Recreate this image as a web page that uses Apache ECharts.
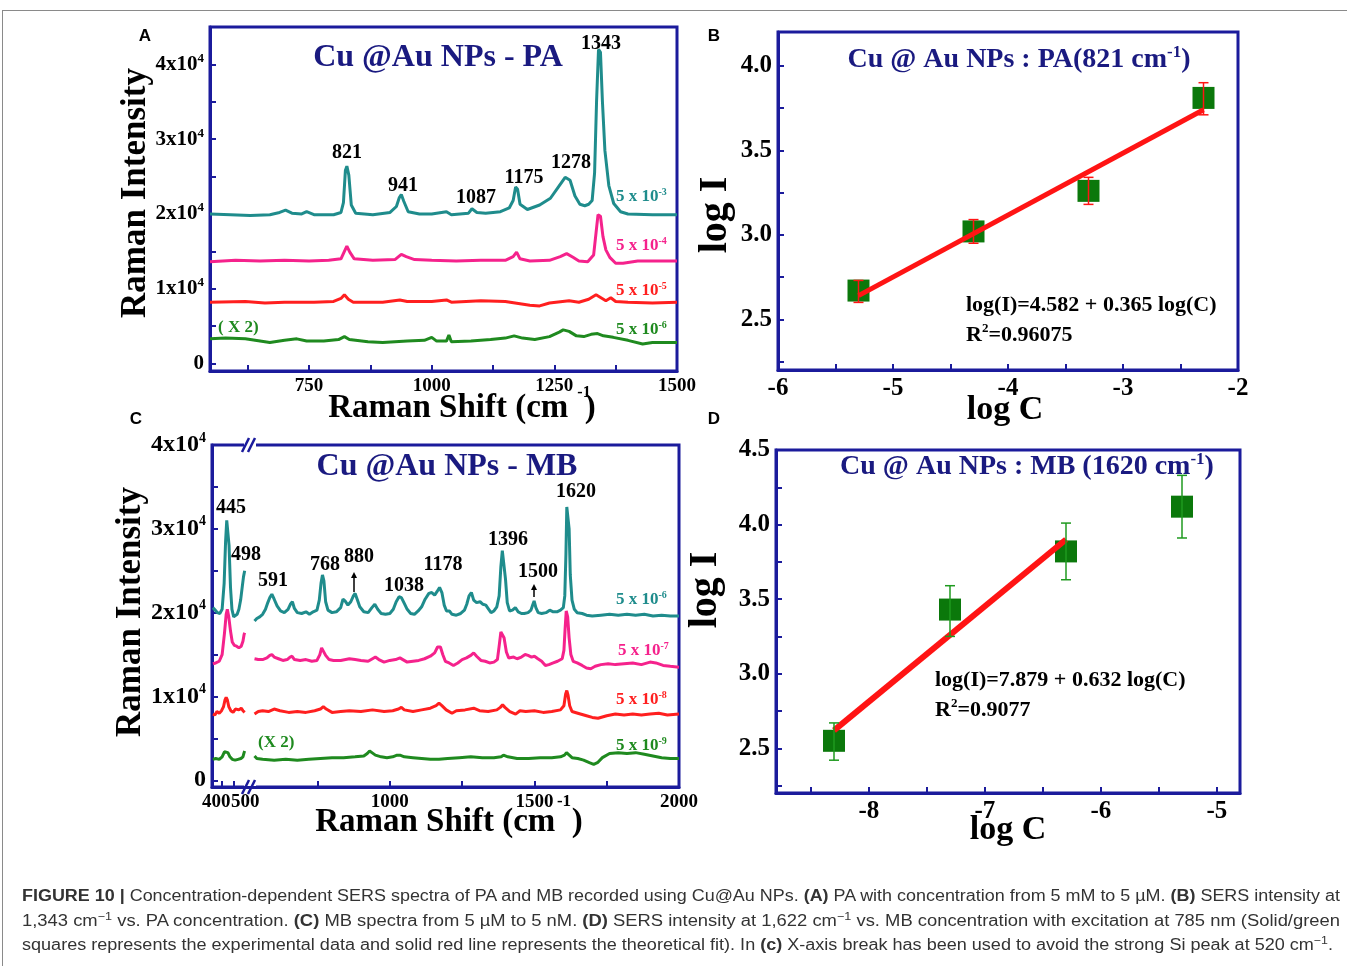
<!DOCTYPE html>
<html>
<head>
<meta charset="utf-8">
<title>Cu@Au NPs SERS</title>
<script src="https://cdn.jsdelivr.net/npm/echarts@6.0.0/dist/echarts.min.js"></script>
<style>
  html, body { margin: 0; padding: 0; background: #fff; }
  #wrap { position: relative; width: 1347px; height: 966px; overflow: hidden; }
  #frame { position: absolute; left: 2px; top: 10px; width: 1400px; height: 1000px;
           border-top: 1px solid #8a8a8a; border-left: 1px solid #8a8a8a; }
  #chart { position: absolute; left: 0; top: 0; width: 1347px; height: 966px; }
  #caption { position: absolute; left: 22px; top: 884px; font-family: "Liberation Sans", Arial, sans-serif;
             font-size: 16px; color: #333; line-height: 24.5px; }
  #caption div { white-space: nowrap; transform-origin: 0 50%; }
  #caption sup { font-size: 11px; vertical-align: 6px; line-height: 0; }
</style>
</head>
<body>
<div id="wrap">
  <div id="frame"></div>
  <div id="chart"></div>
  <div id="caption">
    <div data-w="1318"><b>FIGURE 10 |</b> Concentration-dependent SERS spectra of PA and MB recorded using Cu@Au NPs. <b>(A)</b> PA with concentration from 5 mM to 5 µM. <b>(B)</b> SERS intensity at</div>
    <div data-w="1318">1,343 cm<sup>−1</sup> vs. PA concentration. <b>(C)</b> MB spectra from 5 µM to 5 nM. <b>(D)</b> SERS intensity at 1,622 cm<sup>−1</sup> vs. MB concentration with excitation at 785 nm (Solid/green</div>
    <div data-w="1311">squares represents the experimental data and solid red line represents the theoretical fit). In <b>(c)</b> X-axis break has been used to avoid the strong Si peak at 520 cm<sup>−1</sup>.</div>
  </div>
</div>
<script>
// ---- panel A : PA spectra (Raman shift, intensity)
var paTeal = [[548,20000],[590,19900],[630,19800],[670,19900],[690,20200],[702,20500],[715,20100],[735,20000],[745,20300],[760,19900],[800,19900],[815,20200],[820,21500],[824,25800],[827,26400],[831,25200],[836,21200],[845,20100],[880,19900],[915,20200],[928,21000],[934,22200],[938,22600],[943,21700],[952,20300],[975,20000],[1000,20000],[1030,20300],[1040,19900],[1075,20100],[1082,20700],[1086,20900],[1092,20200],[1110,20100],[1140,20300],[1158,20800],[1166,21800],[1171,23600],[1175,23300],[1180,21300],[1195,20600],[1220,21200],[1242,22100],[1258,23600],[1272,24900],[1282,24500],[1292,22400],[1302,21300],[1312,21100],[1320,21300],[1327,21800],[1332,25500],[1336,35000],[1340,42000],[1344,41600],[1348,35000],[1353,28500],[1361,23800],[1371,21400],[1385,20300],[1400,20000],[1450,19900],[1500,19900]];
var paPink = [[548,13600],[600,13800],[650,13700],[700,13800],[750,13700],[790,13800],[815,14000],[822,15000],[827,15700],[833,14900],[842,14000],[880,13800],[925,13900],[938,14600],[948,14300],[965,13900],[1000,13800],[1050,13700],[1100,13800],[1150,13800],[1166,14300],[1173,14900],[1180,14000],[1200,13700],[1240,13800],[1262,14300],[1275,14700],[1288,14200],[1300,13700],[1318,13600],[1330,14500],[1335,17500],[1339,19900],[1344,19700],[1349,17000],[1355,15200],[1363,14200],[1375,13400],[1390,13400],[1420,13700],[1460,13700],[1500,13700]];
var paRed = [[548,8200],[620,8300],[660,8100],[700,8200],[760,8200],[800,8300],[815,8700],[822,9200],[830,8600],[840,8200],[900,8200],[935,8500],[950,8300],[1000,8300],[1030,8500],[1040,8200],[1100,8400],[1150,8300],[1200,7800],[1220,7700],[1240,8100],[1280,8400],[1300,8200],[1320,8600],[1335,9200],[1345,8800],[1355,8400],[1365,8800],[1375,8300],[1400,8200],[1450,8100],[1500,8200]];
var paGreen = [[548,3300],[580,3400],[620,3300],[650,3000],[670,2800],[700,3100],[725,3300],[745,3000],[780,3000],[810,3200],[822,3600],[832,3200],[870,2900],[900,2800],[950,3000],[985,3100],[1000,3500],[1010,3000],[1030,3000],[1035,3800],[1040,2900],[1080,3000],[1120,3200],[1150,3400],[1168,3700],[1185,3400],[1210,3200],[1240,3600],[1260,4200],[1268,4500],[1280,4300],[1295,3700],[1310,3600],[1325,3900],[1338,4000],[1350,3700],[1370,3500],[1400,3100],[1430,2600],[1450,2800],[1500,2800]];

// ---- panel C : MB spectra ('-' = axis break gap)
var mbTeal = [[388,20600],[396,20300],[404,20000],[412,19900],[420,20400],[427,23500],[432,28500],[436,31000],[440,30800],[444,28000],[449,23000],[454,20400],[460,19500],[466,19400],[472,19800],[478,20400],[484,21500],[490,23200],[494,24300],[498,25000],[515,'-'],
  [532,19000],[540,19300],[550,19500],[560,19800],[570,20400],[578,21200],[585,21800],[592,22200],[600,21600],[610,20800],[622,20200],[635,20000],[648,20400],[656,21000],[663,21300],[670,20500],[680,20000],[695,19900],[710,20100],[722,19800],[735,20100],[748,20300],[756,21500],[762,23500],[767,24500],[772,23800],[778,21300],[786,20300],[800,20000],[815,20100],[830,20600],[838,21600],[845,21400],[855,20900],[865,21300],[874,22000],[880,22300],[887,21600],[896,20700],[910,20100],[925,20000],[938,20600],[948,21000],[958,20400],[970,19900],[985,19800],[1000,19900],[1012,20400],[1022,21300],[1032,21900],[1040,21800],[1050,21100],[1060,20400],[1072,19900],[1085,19800],[1098,20200],[1110,20700],[1122,21600],[1135,22300],[1145,22400],[1155,22100],[1163,22500],[1172,23000],[1180,22400],[1188,20900],[1196,20200],[1206,20200],[1215,19800],[1230,19700],[1245,19900],[1258,20300],[1266,21000],[1274,22000],[1282,22400],[1290,21500],[1300,21200],[1312,21300],[1322,21000],[1332,20900],[1342,20400],[1350,20000],[1360,20200],[1370,20700],[1378,22000],[1384,25500],[1389,27400],[1394,27200],[1400,24000],[1406,21200],[1414,20200],[1424,20300],[1434,20600],[1444,20100],[1455,19900],[1465,19900],[1478,20000],[1488,20300],[1494,20900],[1499,21400],[1505,20600],[1513,20000],[1525,19900],[1540,20000],[1553,20300],[1565,20100],[1578,20100],[1590,20300],[1600,20600],[1605,22000],[1609,27000],[1612,32600],[1616,32800],[1620,30000],[1624,24500],[1630,21500],[1638,20400],[1648,20000],[1665,19900],[1680,19700],[1700,19600],[1730,19700],[1760,19800],[1790,19700],[1820,19800],[1850,19700],[1880,19800],[1910,19600],[1940,19700],[1970,19600],[2000,19600]];
var mbPink = [[388,13900],[398,14000],[410,14200],[420,15000],[428,17500],[434,19800],[438,20400],[443,19500],[449,17800],[455,16500],[462,16100],[470,16000],[478,15800],[486,16000],[492,16600],[496,17400],[498,17600],[515,'-'],
  [532,14500],[545,14400],[560,14400],[575,14600],[585,14900],[592,15000],[600,14700],[615,14500],[630,14300],[645,14400],[655,14700],[662,14800],[670,14400],[690,14300],[710,14400],[730,14200],[748,14300],[758,15000],[764,15800],[770,15900],[778,14900],[790,14400],[805,14300],[830,14300],[860,14500],[880,14400],[900,14300],[925,14200],[940,14500],[950,14700],[962,14400],[980,14100],[1000,14300],[1020,14400],[1035,14600],[1045,14400],[1060,14100],[1080,14200],[1100,14300],[1120,14500],[1140,14800],[1155,15200],[1165,15900],[1175,15900],[1183,15000],[1192,14200],[1205,14000],[1220,13700],[1235,14000],[1250,14400],[1265,14600],[1280,14900],[1290,15200],[1300,14800],[1315,14300],[1330,14200],[1345,14000],[1360,14100],[1372,14400],[1378,16000],[1384,17700],[1389,17900],[1395,17000],[1403,15300],[1411,14600],[1428,14700],[1440,14500],[1455,14700],[1468,15000],[1478,14900],[1490,14700],[1500,14800],[1512,14500],[1525,14200],[1538,13700],[1550,13800],[1565,14000],[1580,14200],[1596,14500],[1602,15500],[1606,18000],[1610,20200],[1615,19500],[1620,17000],[1626,15000],[1634,14200],[1648,14000],[1665,13700],[1680,13400],[1695,13300],[1710,13600],[1730,13800],[1755,13900],[1780,13800],[1810,13900],[1840,14000],[1870,13800],[1900,14100],[1920,14000],[1945,13700],[1970,13600],[2000,13500]];
var mbRed = [[388,7900],[395,7800],[402,8200],[410,8000],[418,8300],[425,8800],[430,9600],[434,9900],[438,9600],[443,8800],[450,8300],[458,8100],[466,8500],[472,8600],[478,8400],[486,8600],[492,8300],[498,8100],[515,'-'],
  [532,7900],[545,8200],[560,8300],[580,8200],[600,8500],[620,8300],[650,8100],[680,8200],[710,8100],[740,8300],[760,8500],[770,8800],[780,8500],[800,8100],[830,8200],[860,8300],[900,8200],[940,8400],[980,8200],[1010,8300],[1030,8500],[1040,8700],[1050,8400],[1080,8200],[1110,8400],[1140,8600],[1160,8900],[1170,9200],[1180,8900],[1195,8400],[1215,8000],[1230,8300],[1260,8400],[1290,8600],[1310,8300],[1340,8200],[1370,8400],[1382,8700],[1390,9000],[1398,8700],[1415,8200],[1435,7900],[1450,8300],[1470,8200],[1500,8300],[1530,8100],[1560,8200],[1590,8400],[1602,8900],[1608,10300],[1612,10700],[1616,10200],[1622,8900],[1630,8200],[1650,8000],[1680,7700],[1700,7500],[1720,7400],[1750,7700],[1780,7900],[1810,7800],[1840,7900],[1870,7800],[1900,7900],[1930,8000],[1960,7800],[2000,7900]];
var mbGreen = [[388,2500],[398,2600],[410,2500],[420,2800],[428,3400],[434,3600],[440,3300],[447,2800],[455,2500],[465,2400],[475,2500],[485,2600],[492,2800],[496,3300],[498,3500],[515,'-'],
  [532,2900],[540,2600],[560,2500],[600,2400],[640,2500],[680,2400],[720,2500],[760,2600],[800,2700],[840,2700],[880,2800],[910,2900],[922,3200],[930,3500],[938,3300],[950,3000],[970,2800],[990,2700],[1010,2800],[1025,3000],[1035,3000],[1050,2800],[1080,2700],[1110,2600],[1140,2500],[1170,2500],[1200,2600],[1240,2700],[1280,2800],[1320,2700],[1360,2700],[1385,2800],[1393,3000],[1408,2800],[1440,2600],[1480,2600],[1520,2700],[1560,2700],[1590,2800],[1604,3000],[1611,3300],[1617,3100],[1630,2700],[1650,2600],[1670,2400],[1690,2100],[1705,1900],[1718,2100],[1735,2700],[1760,3200],[1790,3300],[1820,3200],[1850,3300],[1880,3100],[1910,2900],[1940,2700],[1970,2600],[2000,2600]];

// ---- panel B : PA log I vs log C
var paLogC = [-5.3, -4.3, -3.3, -2.3];
var paLogI = [2.67, 3.02, 3.26, 3.81];
var paErrLow = [2.60, 2.95, 3.18, 3.71];
var paErrHigh = [2.73, 3.09, 3.34, 3.90];
var paFit = [[-5.3, 2.64], [-2.3, 3.74]];

// ---- panel D : MB log I vs log C
var mbLogC = [-8.3, -7.3, -6.3, -5.3];
var mbLogI = [2.55, 3.43, 3.82, 4.12];
var mbErrLow = [2.42, 3.25, 3.63, 3.91];
var mbErrHigh = [2.67, 3.59, 4.01, 4.33];
var mbFit = [[-8.3, 2.62], [-6.3, 3.90]];

// tick labels
var paShiftLabels = [750, 1000, 1250, 1500];
var mbShiftLabels = [400, 500, 1000, 1500, 2000];
var intensityLabels = [0, 10000, 20000, 30000, 40000];
var paLogILabels = [2.5, 3.0, 3.5, 4.0];
var mbLogILabels = [2.5, 3.0, 3.5, 4.0, 4.5];
var mbLogCLabels = [-8, -7, -6, -5];

var SERIF = '"Liberation Serif", "Times New Roman", serif';
var NAVY = '#1b1b9c';
var TITLE = '#1a1a80';
var TEAL = '#1f8c8c', PINK = '#f5228c', RED = '#ff1f1f', GREEN = '#1f8a1f', SQUARE = '#0b780b';

var chart = echarts.init(document.getElementById('chart'));

function axisBase(fs) {
  return {
    axisLine: { show: true, onZero: false, lineStyle: { color: NAVY, width: 3 } },
    axisTick: { show: true, inside: true, length: 6, lineStyle: { color: NAVY, width: 2 } },
    splitLine: { show: false },
    axisLabel: { color: '#000', fontFamily: SERIF, fontWeight: 'bold', fontSize: fs, margin: 6,
      formatter: function (v) { return String(v); } }
  };
}
function merge(a, b) {
  for (var k in b) {
    if (b[k] && typeof b[k] === 'object' && !Array.isArray(b[k]) && a[k]) merge(a[k], b[k]); else a[k] = b[k];
  }
  return a;
}
function tenPow(fs) {
  return {
    formatter: function (v) { return v === 0 ? '{n|0}' : '{n|' + (v / 10000) + 'x10}{s|4}'; },
    rich: {
      n: { fontFamily: SERIF, fontWeight: 'bold', fontSize: fs, color: '#000', lineHeight: fs + 4 },
      s: { fontFamily: SERIF, fontWeight: 'bold', fontSize: Math.round(fs * 0.6), color: '#000', verticalAlign: 'top', lineHeight: 10 }
    }
  };
}
function grid(l, t, w, h) {
  return { left: l, top: t, width: w, height: h, show: true, borderColor: NAVY, borderWidth: 3, backgroundColor: 'transparent' };
}
function spectrum(data, idx, color) {
  return { type: 'line', xAxisIndex: idx, yAxisIndex: idx, data: data, showSymbol: false, symbol: 'none',
    connectNulls: false, lineStyle: { color: color, width: 3 }, z: 3, silent: true };
}
function errorBars(xs, lo, hi, idx, color) {
  return {
    type: 'custom', xAxisIndex: idx, yAxisIndex: idx, z: 6, silent: true,
    data: xs.map(function (c, i) { return [c, lo[i], hi[i]]; }),
    encode: { x: 0, y: [1, 2] },
    renderItem: function (params, api) {
      var x = api.value(0);
      var a = api.coord([x, api.value(1)]);
      var b = api.coord([x, api.value(2)]);
      var w = 5, st = { stroke: color, lineWidth: 1.5 };
      return { type: 'group', children: [
        { type: 'line', shape: { x1: a[0], y1: a[1], x2: b[0], y2: b[1] }, style: st },
        { type: 'line', shape: { x1: a[0] - w, y1: a[1], x2: a[0] + w, y2: a[1] }, style: st },
        { type: 'line', shape: { x1: b[0] - w, y1: b[1], x2: b[0] + w, y2: b[1] }, style: st }
      ] };
    }
  };
}
function points(xs, ys, idx) {
  return { type: 'scatter', xAxisIndex: idx, yAxisIndex: idx, symbol: 'rect', symbolSize: 22, z: 4, silent: true,
    itemStyle: { color: SQUARE, opacity: 1 }, data: xs.map(function (c, i) { return [c, ys[i]]; }) };
}
function fit(data, idx, w) {
  return { type: 'line', xAxisIndex: idx, yAxisIndex: idx, data: data, symbol: 'none', z: 5, silent: true,
    lineStyle: { color: '#ff1414', width: w } };
}

// text helpers (layout only)
function T(x, y, text, size, color, align, extra) {
  var el = { type: 'text', x: x, y: y, z: 100, silent: true,
    style: { text: text, fill: color || '#000', font: 'bold ' + size + 'px ' + SERIF,
      align: align || 'center', verticalAlign: 'middle', textAlign: align || 'center', textVerticalAlign: 'middle' } };
  if (extra) merge(el, extra);
  return el;
}
function S(x, y, parts, size, color, align) {
  // parts: array of [text, isSup]
  var txt = parts.map(function (p) { return (p[1] ? '{s|' : '{n|') + p[0] + '}'; }).join('');
  return { type: 'text', x: x, y: y, z: 100, silent: true,
    style: { text: txt, align: align || 'center', verticalAlign: 'middle', textAlign: align || 'center', textVerticalAlign: 'middle',
      rich: {
        n: { fontFamily: SERIF, fontWeight: 'bold', fontSize: size, fill: color, lineHeight: Math.round(size * 1.15) },
        s: { fontFamily: SERIF, fontWeight: 'bold', fontSize: Math.round(size * 0.6), fill: color, verticalAlign: 'top', lineHeight: Math.round(size * 0.6) }
      } } };
}
function conc(x, y, exp, color) { return S(x, y, [['5 x 10', 0], [exp, 1]], 17, color, 'left'); }
function arrow(x, yTop, yBot) {
  return { type: 'group', silent: true, z: 100, children: [
    { type: 'line', shape: { x1: x, y1: yBot, x2: x, y2: yTop + 4 }, style: { stroke: '#000', lineWidth: 1.5 } },
    { type: 'polygon', shape: { points: [[x - 3, yTop + 6], [x + 3, yTop + 6], [x, yTop]] }, style: { fill: '#000' } }
  ] };
}
function breakMark(x, y) {
  var st = { stroke: NAVY, lineWidth: 2.5 };
  return { type: 'group', silent: true, z: 100, children: [
    { type: 'rect', shape: { x: x - 6, y: y - 3, width: 12, height: 6 }, style: { fill: '#fff' } },
    { type: 'line', shape: { x1: x - 8, y1: y + 7, x2: x - 1, y2: y - 7 }, style: st },
    { type: 'line', shape: { x1: x - 2, y1: y + 7, x2: x + 5, y2: y - 7 }, style: st }
  ] };
}
var PANEL = 'bold 17px "Liberation Sans", Arial, sans-serif';

var graphics = [
  // panel letters
  T(145, 36, 'A', 17, '#000', 'center', { style: { font: PANEL } }),
  T(714, 36, 'B', 17, '#000', 'center', { style: { font: PANEL } }),
  T(136, 419, 'C', 17, '#000', 'center', { style: { font: PANEL } }),
  T(714, 419, 'D', 17, '#000', 'center', { style: { font: PANEL } }),

  // panel A
  T(438, 58, 'Cu @Au NPs - PA', 32, TITLE),
  T(347, 153, '821', 20), T(403, 186, '941', 20), T(476, 198, '1087', 20),
  T(524, 178, '1175', 20), T(571, 163, '1278', 20), T(601, 44, '1343', 20),
  conc(616, 197, '-3', TEAL), conc(616, 246, '-4', PINK), conc(616, 291, '-5', RED), conc(616, 330, '-6', GREEN),
  T(218, 328, '( X 2)', 17, GREEN, 'left'),
  T(136, 193, 'Raman Intensity', 35, '#000', 'center', { rotation: Math.PI / 2 }),
  T(462, 408, 'Raman Shift (cm  )', 33),
  T(584, 393, '-1', 16),

  // panel B
  S(1019, 60, [['Cu @ Au NPs : PA(821 cm', 0], ['-1', 1], [')', 0]], 28, TITLE),
  T(966, 305, 'log(I)=4.582 + 0.365 log(C)', 22, '#000', 'left'),
  S(966, 335, [['R', 0], ['2', 1], ['=0.96075', 0]], 22, '#000', 'left'),
  T(716, 215, 'log I', 40, '#000', 'center', { rotation: Math.PI / 2 }),
  T(1005, 410, 'log C', 34),

  // panel C
  T(447, 467, 'Cu @Au NPs - MB', 32, TITLE),
  T(231, 508, '445', 20), T(246, 555, '498', 20), T(273, 581, '591', 20), T(325, 565, '768', 20),
  T(359, 557, '880', 20), T(404, 586, '1038', 20), T(443, 565, '1178', 20), T(508, 540, '1396', 20),
  T(538, 572, '1500', 20), T(576, 492, '1620', 20),
  arrow(354, 572, 592), arrow(534, 584, 597),
  conc(616, 600, '-6', TEAL), conc(618, 651, '-7', PINK), conc(616, 700, '-8', RED), conc(616, 746, '-9', GREEN),
  T(258, 743, '(X 2)', 17, GREEN, 'left'),
  T(131, 612, 'Raman Intensity', 35, '#000', 'center', { rotation: Math.PI / 2 }),
  T(449, 822, 'Raman Shift (cm  )', 33),
  T(564, 802, '-1', 17),
  breakMark(250, 445), breakMark(250, 787),

  // panel D
  S(1027, 467, [['Cu @ Au NPs : MB (1620 cm', 0], ['-1', 1], [')', 0]], 28, TITLE),
  T(935, 680, 'log(I)=7.879 + 0.632 log(C)', 22, '#000', 'left'),
  S(935, 710, [['R', 0], ['2', 1], ['=0.9077', 0]], 22, '#000', 'left'),
  T(706, 590, 'log I', 40, '#000', 'center', { rotation: Math.PI / 2 }),
  T(1008, 830, 'log C', 34)
];

var option = {
  animation: false,
  backgroundColor: 'transparent',
  grid: [grid(210, 27, 467, 344), grid(778, 32, 460, 338), grid(212, 445, 467, 342), grid(776, 450, 464, 343)],
  xAxis: [
    merge(axisBase(19), { type: 'value', gridIndex: 0, min: 548, max: 1500,
      axisLabel: { customValues: paShiftLabels }, axisTick: { customValues: [625, 750, 875, 1000, 1125, 1250, 1375, 1500] } }),
    merge(axisBase(25), { type: 'value', gridIndex: 1, min: -6, max: -2, interval: 1,
      minorTick: { show: true, splitNumber: 2, length: 6, lineStyle: { color: NAVY, width: 2 } } }),
    merge(axisBase(19), { type: 'value', gridIndex: 2, min: 385, max: 2000,
      axisLabel: { customValues: mbShiftLabels }, axisTick: { customValues: [420, 460, 750, 1000, 1250, 1500, 1750] } }),
    merge(axisBase(25), { type: 'value', gridIndex: 3, min: -8.8, max: -4.8,
      axisLabel: { customValues: mbLogCLabels }, axisTick: { customValues: [-8.5, -8, -7.5, -7, -6.5, -6, -5.5, -5] } })
  ],
  yAxis: [
    merge(axisBase(20), { type: 'value', gridIndex: 0, min: -1000, max: 45000,
      axisLabel: merge({ customValues: intensityLabels }, tenPow(21)),
      axisTick: { customValues: [0, 5000, 10000, 15000, 20000, 25000, 30000, 35000, 40000] } }),
    merge(axisBase(25), { type: 'value', gridIndex: 1, min: 2.2, max: 4.2,
      axisLabel: { customValues: paLogILabels, formatter: function (v) { return v.toFixed(1); } },
      axisTick: { customValues: [2.25, 2.5, 2.75, 3.0, 3.25, 3.5, 3.75, 4.0] } }),
    merge(axisBase(22), { type: 'value', gridIndex: 2, min: -800, max: 40000,
      axisLabel: merge({ customValues: intensityLabels }, tenPow(24)),
      axisTick: { customValues: [0, 5000, 10000, 15000, 20000, 25000, 30000, 35000, 40000] } }),
    merge(axisBase(25), { type: 'value', gridIndex: 3, min: 2.2, max: 4.5,
      axisLabel: { customValues: mbLogILabels, formatter: function (v) { return v.toFixed(1); } },
      axisTick: { customValues: [2.25, 2.5, 2.75, 3.0, 3.25, 3.5, 3.75, 4.0, 4.25] } })
  ],
  series: [
    spectrum(paTeal, 0, TEAL), spectrum(paPink, 0, PINK), spectrum(paRed, 0, RED), spectrum(paGreen, 0, GREEN),
    points(paLogC, paLogI, 1), fit(paFit, 1, 5), errorBars(paLogC, paErrLow, paErrHigh, 1, '#ff1414'),
    spectrum(mbTeal, 2, TEAL), spectrum(mbPink, 2, PINK), spectrum(mbRed, 2, RED), spectrum(mbGreen, 2, GREEN),
    points(mbLogC, mbLogI, 3), fit(mbFit, 3, 6), errorBars(mbLogC, mbErrLow, mbErrHigh, 3, '#1f9a1f')
  ],
  graphic: graphics
};
chart.setOption(option);

// fit caption lines to the measured widths of the original
Array.prototype.forEach.call(document.querySelectorAll('#caption div'), function (d) {
  var target = +d.getAttribute('data-w');
  d.style.display = 'inline-block';
  var w = d.getBoundingClientRect().width;
  d.style.display = 'block';
  if (w > 0) d.style.transform = 'scaleX(' + (target / w).toFixed(4) + ')';
});
</script>
</body>
</html>
